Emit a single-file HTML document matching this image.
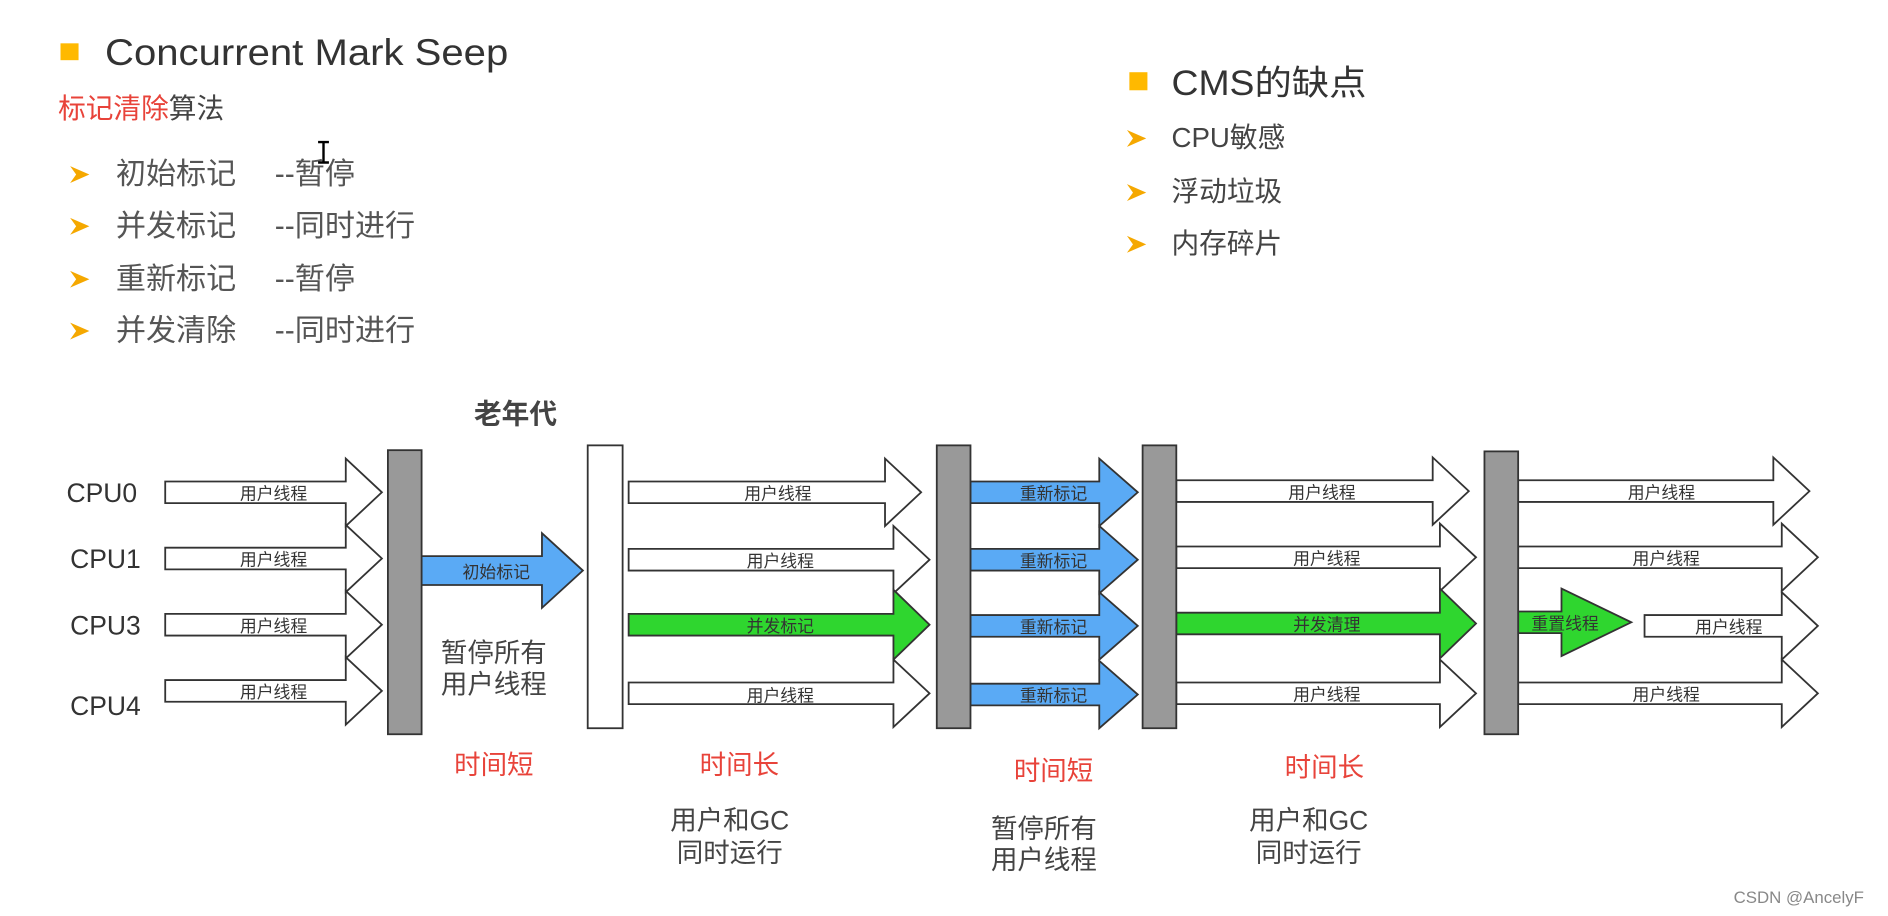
<!DOCTYPE html>
<html><head><meta charset="utf-8"><style>
html,body{margin:0;padding:0;background:#fff;width:1888px;height:916px;overflow:hidden}
svg{display:block}
text{font-family:"Liberation Sans","Noto Sans CJK SC",sans-serif}
</style></head><body>
<svg width="1888" height="916" viewBox="0 0 1568 761" xmlns="http://www.w3.org/2000/svg">
<defs>
<g id="bul"><path d="M0,-7 L16,0 L0,7 L5,0 Z" fill="#f5a800"/></g>
</defs>
<!-- top left -->
<rect x="50" y="36" width="15" height="14" fill="#ffb900"/>
<text x="87" y="54" font-size="31" fill="#333" textLength="335" lengthAdjust="spacingAndGlyphs">Concurrent Mark Seep</text>
<text x="48" y="98" font-size="23" fill="#e8433a">标记清除<tspan fill="#444">算法</tspan></text>
<g font-size="25" fill="#555">
<use href="#bul" x="58" y="145"/><text x="96" y="153">初始标记</text><text x="228" y="153">--暂停</text>
<use href="#bul" x="58" y="188"/><text x="96" y="196">并发标记</text><text x="228" y="196">--同时进行</text>
<use href="#bul" x="58" y="232"/><text x="96" y="240">重新标记</text><text x="228" y="240">--暂停</text>
<use href="#bul" x="58" y="275"/><text x="96" y="283">并发清除</text><text x="228" y="283">--同时进行</text>
</g>
<path d="M264,118 h9 M268.5,118 v17 M264,135 h9" stroke="#000" stroke-width="2"/>
<!-- top right -->
<rect x="938" y="60" width="15" height="15" fill="#ffb900"/>
<text x="973" y="79" font-size="29" fill="#333" textLength="162" lengthAdjust="spacingAndGlyphs">CMS的缺点</text>
<g font-size="23" fill="#444">
<use href="#bul" x="936" y="115"/><text x="973" y="122">CPU敏感</text>
<use href="#bul" x="936" y="160"/><text x="973" y="167">浮动垃圾</text>
<use href="#bul" x="936" y="203"/><text x="973" y="210">内存碎片</text>
</g>
<!-- diagram -->
<text x="428" y="352" font-size="23" fill="#444" text-anchor="middle" font-weight="bold">老年代</text>
<g font-size="22" fill="#333">
<text x="55" y="417">CPU0</text><text x="58" y="472">CPU1</text><text x="58" y="527">CPU3</text><text x="58" y="594">CPU4</text>
</g>
<g stroke="#333" stroke-width="1.5" stroke-linejoin="miter">
<path d="M137,400 H287 V381 L317,409 L287,437 V418 H137 Z" fill="#fff"/>
<path d="M137,455 H287 V436 L317,464 L287,492 V473 H137 Z" fill="#fff"/>
<path d="M137,510 H287 V491 L317,519 L287,547 V528 H137 Z" fill="#fff"/>
<path d="M137,565 H287 V546 L317,574 L287,602 V583 H137 Z" fill="#fff"/>
<path d="M350,462 H450 V443 L484,474 L450,505 V486 H350 Z" fill="#5aaaf5"/>
<path d="M522,400 H735 V381 L765,409 L735,437 V418 H522 Z" fill="#fff"/>
<path d="M522,456 H742 V437 L772,465 L742,493 V474 H522 Z" fill="#fff"/>
<path d="M522,567 H742 V548 L772,576 L742,604 V585 H522 Z" fill="#fff"/>
<path d="M522,510 H742 V490 L772,519 L742,548 V528 H522 Z" fill="#2fd62f"/>
<path d="M806,400 H913 V381 L945,409 L913,437 V418 H806 Z" fill="#5aaaf5"/>
<path d="M806,456 H913 V437 L945,465 L913,493 V474 H806 Z" fill="#5aaaf5"/>
<path d="M806,511 H913 V492 L945,520 L913,548 V529 H806 Z" fill="#5aaaf5"/>
<path d="M806,568 H913 V549 L945,577 L913,605 V586 H806 Z" fill="#5aaaf5"/>
<path d="M977,399 H1190 V380 L1220,408 L1190,436 V417 H977 Z" fill="#fff"/>
<path d="M977,454 H1196 V435 L1226,463 L1196,491 V472 H977 Z" fill="#fff"/>
<path d="M977,567 H1196 V548 L1226,576 L1196,604 V585 H977 Z" fill="#fff"/>
<path d="M977,509 H1196 V489 L1226,518 L1196,547 V527 H977 Z" fill="#2fd62f"/>
<path d="M1261,399 H1473 V380 L1503,408 L1473,436 V417 H1261 Z" fill="#fff"/>
<path d="M1261,454 H1480 V435 L1510,463 L1480,491 V472 H1261 Z" fill="#fff"/>
<path d="M1366,511 H1480 V492 L1510,520 L1480,548 V529 H1366 Z" fill="#fff"/>
<path d="M1261,567 H1480 V548 L1510,576 L1480,604 V585 H1261 Z" fill="#fff"/>
<path d="M1261,508 H1297 V489 L1355,517 L1297,545 V526 H1261 Z" fill="#2fd62f"/>
<rect x="322" y="374" width="28" height="236" fill="#999"/>
<rect x="488" y="370" width="29" height="235" fill="#fff"/>
<rect x="778" y="370" width="28" height="235" fill="#999"/>
<rect x="949" y="370" width="28" height="235" fill="#999"/>
<rect x="1233" y="375" width="28" height="235" fill="#999"/>
</g>
<g font-size="14" fill="#333" text-anchor="middle">
<text x="227" y="415">用户线程</text><text x="227" y="470">用户线程</text><text x="227" y="525">用户线程</text><text x="227" y="580">用户线程</text>
<text x="412" y="480">初始标记</text>
<text x="646" y="415">用户线程</text><text x="648" y="471">用户线程</text><text x="648" y="525">并发标记</text><text x="648" y="583">用户线程</text>
<text x="875" y="415">重新标记</text><text x="875" y="471">重新标记</text><text x="875" y="526">重新标记</text><text x="875" y="583">重新标记</text>
<text x="1098" y="414">用户线程</text><text x="1102" y="469">用户线程</text><text x="1102" y="524">并发清理</text><text x="1102" y="582">用户线程</text>
<text x="1380" y="414">用户线程</text><text x="1384" y="469">用户线程</text><text x="1300" y="523">重置线程</text><text x="1436" y="526">用户线程</text><text x="1384" y="582">用户线程</text>
</g>
<g font-size="22" text-anchor="middle">
<text x="410" y="643" fill="#e8433a">时间短</text>
<text x="614" y="643" fill="#e8433a">时间长</text>
<text x="875" y="648" fill="#e8433a">时间短</text>
<text x="1100" y="645" fill="#e8433a">时间长</text>
<g fill="#444">
<text x="410" y="550">暂停所有</text><text x="410" y="576">用户线程</text>
<text x="606" y="689">用户和GC</text><text x="606" y="716">同时运行</text>
<text x="867" y="696">暂停所有</text><text x="867" y="722">用户线程</text>
<text x="1087" y="689">用户和GC</text><text x="1087" y="716">同时运行</text>
</g>
</g>
<text x="1440" y="750" font-size="14" fill="#888">CSDN @AncelyF</text>
</svg>
</body></html>
